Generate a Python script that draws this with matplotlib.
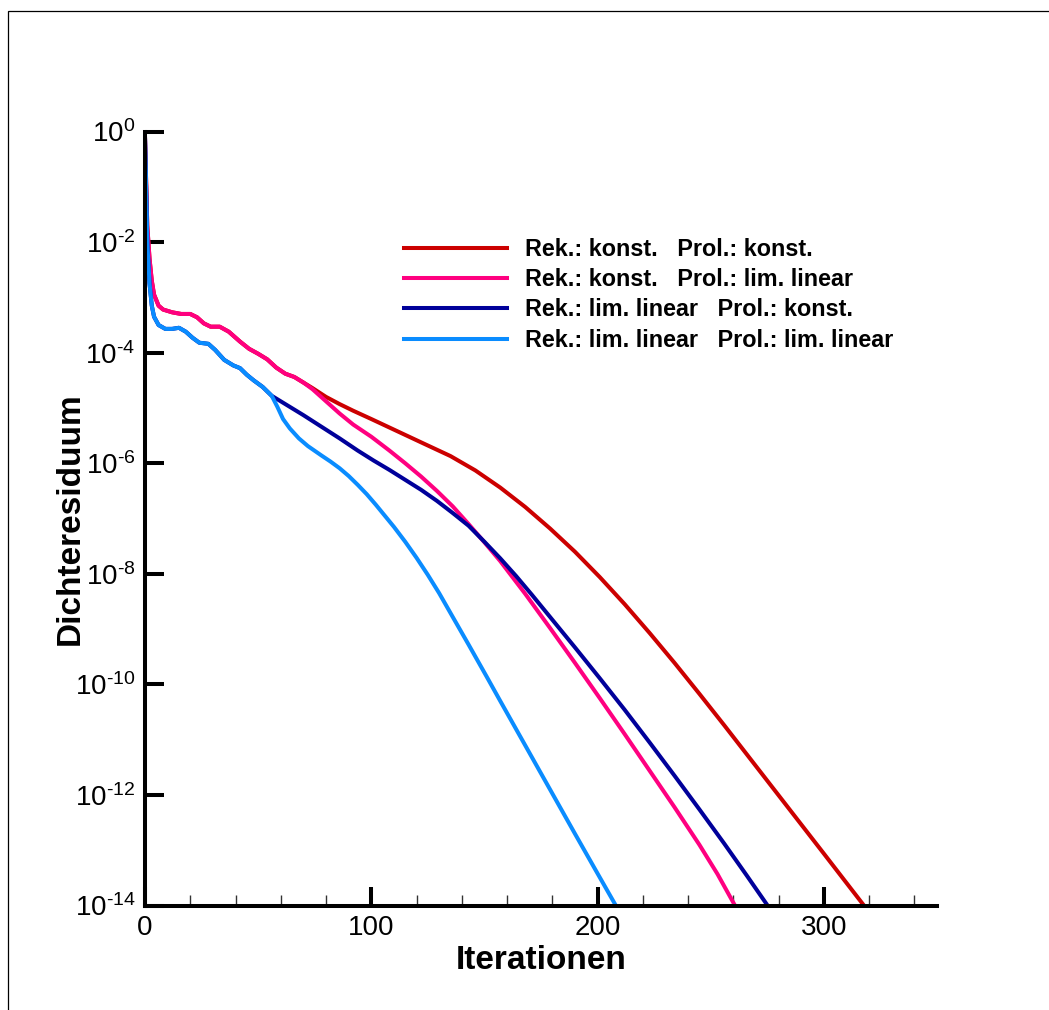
# Konvergenzverlauf des Dichteresiduums für verschiedene Rekonstruktion/Prolongation
import numpy as np
import matplotlib.pyplot as plt
from matplotlib.patches import Rectangle
from matplotlib.ticker import MultipleLocator, NullLocator

plt.rcParams['font.family'] = ['Liberation Sans', 'DejaVu Sans']
plt.rcParams['mathtext.fontset'] = 'custom'
plt.rcParams['mathtext.rm'] = 'Liberation Sans'
plt.rcParams['mathtext.it'] = 'Liberation Sans:italic'
plt.rcParams['mathtext.bf'] = 'Liberation Sans:bold'

# Daten (Iteration, log10 Residuum)
it_kk = [0, 1, 2, 3, 4, 6, 8, 12, 16, 20, 23, 26, 29, 33, 37, 42, 46, 50, 54, 58,
         62, 66, 70, 74, 80, 86, 92, 100, 112, 124, 135, 146, 157, 168, 179, 190,
         201, 212, 223, 234, 245, 256, 267, 278, 289, 300, 310, 318.5]
log_kk = [-0.1, -1.7, -2.3, -2.7, -2.95, -3.15, -3.22, -3.27, -3.3, -3.3, -3.36, -3.47,
          -3.53, -3.53, -3.62, -3.8, -3.93, -4.02, -4.12, -4.27, -4.38, -4.44, -4.54,
          -4.64, -4.8, -4.93, -5.05, -5.2, -5.43, -5.66, -5.87, -6.13, -6.44, -6.79,
          -7.18, -7.6, -8.06, -8.55, -9.07, -9.61, -10.17, -10.74, -11.32, -11.9,
          -12.48, -13.06, -13.59, -14.04]

it_kl = [0, 1, 2, 3, 4, 6, 8, 12, 16, 20, 23, 26, 29, 33, 37, 42, 46, 50, 54, 58,
         62, 66, 70, 74, 80, 86, 92, 100, 108, 115, 122, 129, 136, 143, 150, 157,
         168, 179, 190, 201, 212, 223, 234, 245, 253, 261]
log_kl = [-0.1, -1.7, -2.3, -2.7, -2.95, -3.15, -3.22, -3.27, -3.3, -3.3, -3.36, -3.47,
          -3.53, -3.53, -3.62, -3.8, -3.93, -4.02, -4.12, -4.27, -4.38, -4.44, -4.54,
          -4.66, -4.88, -5.1, -5.3, -5.52, -5.77, -6.0, -6.24, -6.5, -6.78, -7.1,
          -7.43, -7.77, -8.36, -8.98, -9.61, -10.25, -10.9, -11.56, -12.22, -12.9,
          -13.43, -14.02]

it_lk = [0, 1, 2, 3, 4, 6, 9, 12, 15, 18, 21, 24, 28, 31, 35, 39, 42, 45, 48, 52,
         56, 60, 64, 70, 78, 86, 94, 101, 108, 115, 122, 129, 136, 143, 150, 157,
         164, 171, 179, 190, 201, 212, 223, 234, 245, 256, 266, 276]
log_lk = [-0.1, -2.0, -2.75, -3.15, -3.35, -3.5, -3.57, -3.57, -3.55, -3.62, -3.73,
          -3.82, -3.84, -3.95, -4.13, -4.23, -4.28, -4.4, -4.5, -4.62, -4.78, -4.88,
          -4.98, -5.13, -5.34, -5.55, -5.77, -5.95, -6.12, -6.3, -6.48, -6.68, -6.9,
          -7.13, -7.42, -7.72, -8.04, -8.38, -8.78, -9.33, -9.89, -10.46, -11.05,
          -11.65, -12.26, -12.88, -13.46, -14.05]

it_ll = [0, 1, 2, 3, 4, 6, 9, 12, 15, 18, 21, 24, 28, 31, 35, 39, 42, 45, 48, 52,
         56, 58.5, 61, 64, 68, 72, 78, 82, 86, 90, 94, 98, 102, 106, 110, 115, 120,
         125, 130, 136, 143, 151, 157, 168, 179, 190, 200, 208.5]
log_ll = [-0.1, -2.0, -2.75, -3.15, -3.35, -3.5, -3.57, -3.57, -3.55, -3.62, -3.73,
          -3.82, -3.84, -3.95, -4.13, -4.23, -4.28, -4.4, -4.5, -4.62, -4.78, -4.98,
          -5.2, -5.37, -5.55, -5.69, -5.86, -5.97, -6.09, -6.23, -6.39, -6.56, -6.75,
          -6.95, -7.15, -7.42, -7.71, -8.02, -8.35, -8.78, -9.28, -9.86, -10.3,
          -11.1, -11.9, -12.7, -13.42, -14.03]

labels = ['Rek.: konst.   Prol.: konst.',
          'Rek.: konst.   Prol.: lim. linear',
          'Rek.: lim. linear   Prol.: konst.',
          'Rek.: lim. linear   Prol.: lim. linear']
colors = ['#cc0000', '#ff0080', '#00009a', '#0a8cff']

fig = plt.figure(figsize=(10.49, 10.10), dpi=100)
ax = fig.add_axes([145 / 1049, 1 - 905.6 / 1010, 792 / 1049, 774.1 / 1010])

series = [(it_kk, log_kk), (it_kl, log_kl), (it_lk, log_lk), (it_ll, log_ll)]
for (it, lg), c, lab in zip(series, colors, labels):
    ax.plot(it, 10.0 ** np.array(lg), color=c, lw=2.9, label=lab,
            solid_joinstyle='round')

ax.set_yscale('log')
ax.set_xlim(0, 350)
ax.set_ylim(1e-14, 1e0)

exps = list(range(0, 15, 2))
ax.set_yticks([10.0 ** (-k) for k in exps])
ax.set_yticklabels([r'$10^{\text{%s}}$' % ('-%d' % k if k else '0') for k in exps])
ax.yaxis.set_minor_locator(NullLocator())
ax.set_xticks([0, 100, 200, 300])
ax.xaxis.set_minor_locator(MultipleLocator(20))

for s in ['top', 'right']:
    ax.spines[s].set_visible(False)
for s in ['left', 'bottom']:
    ax.spines[s].set_linewidth(2.9)

ax.tick_params(which='major', direction='in', length=13.7, width=2.9,
               labelsize=20, pad=7)
ax.tick_params(which='minor', direction='in', length=8, width=1.0, color='#333333')

ax.set_xlabel('Iterationen', fontsize=24, fontweight='bold')
ax.set_ylabel('Dichteresiduum', fontsize=24, fontweight='bold')
ax.xaxis.set_label_coords(0.5, -0.051)
ax.yaxis.set_label_coords(-0.075, 0.5)

ax.legend(loc='upper left', bbox_to_anchor=(404 / 1049, 1 - 238 / 1010),
          bbox_transform=fig.transFigure, frameon=False, borderpad=0,
          borderaxespad=0, handlelength=4.4, handletextpad=0.8,
          labelspacing=0.31, prop={'weight': 'bold', 'size': 16.8})

# Rahmen um die Grafik
fig.patches.append(Rectangle((8 / 1049, -0.1), 1.2, 1.1 - 11 / 1010,
                             transform=fig.transFigure, fill=False,
                             edgecolor='black', lw=0.9))

fig.savefig('out.png', dpi=100)
